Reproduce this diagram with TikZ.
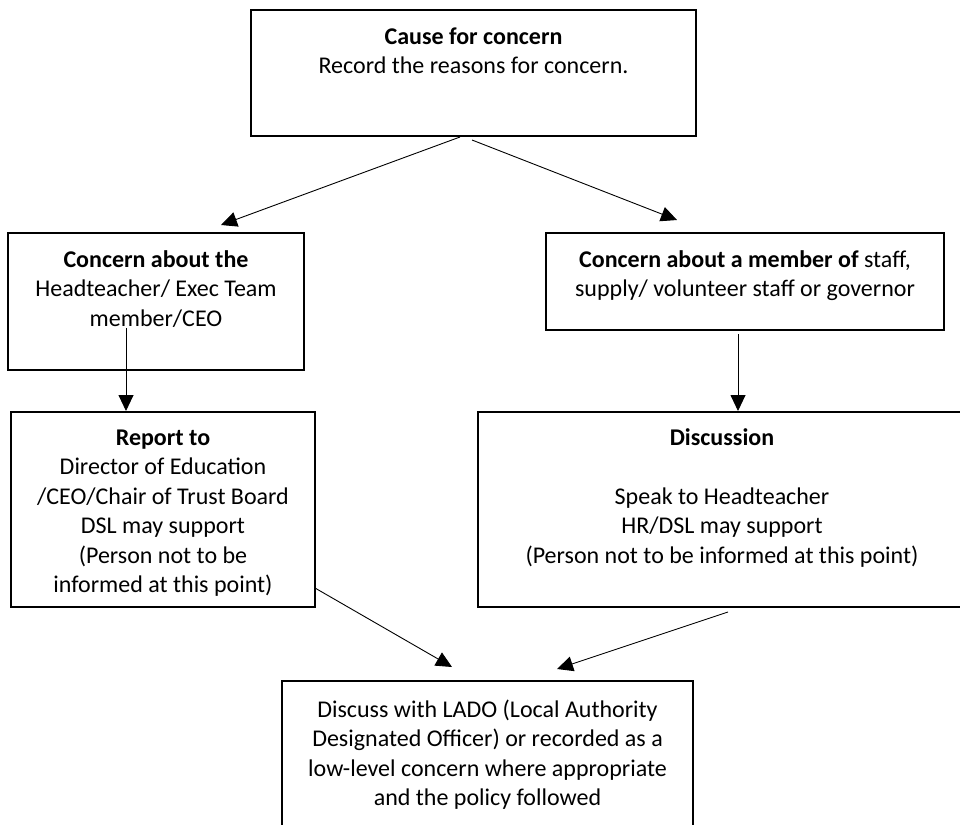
\documentclass[tikz,border=0pt]{standalone}
\usepackage{fontspec}
\setmainfont{Carlito}
\usetikzlibrary{arrows.meta,calc}
\tikzset{
  box/.style={draw=black, line width=1.1pt, rectangle, inner sep=0pt, outer sep=0pt, anchor=north west},
  txt/.style={anchor=north, inner sep=0pt, align=center, font=\fontsize{24}{29.5}\selectfont},
  conn/.style={draw=black, line width=0.9pt, -{Triangle[length=16pt,width=15pt]}}
}
\newcommand{\fl}{\rule{0pt}{20pt}}
\begin{document}
\begin{tikzpicture}[x=1pt,y=-1pt]
\useasboundingbox (0,0) rectangle (960,824);
\fill[white] (0,0) rectangle (960,824);
% boxes
\node[box, minimum width=445pt, minimum height=126pt] (b1) at (251,10) {};
\node[box, minimum width=296pt, minimum height=137pt] (b2) at (8,233) {};
\node[box, minimum width=398pt, minimum height=97pt] (b3) at (546,233) {};
\node[box, minimum width=304pt, minimum height=195pt] (b4) at (11,412) {};
\node[box, minimum width=488pt, minimum height=195pt] (b5) at (478,412) {};
\node[box, minimum width=411pt, minimum height=170pt] (b6) at (282,681) {};
% texts
\node[txt] (t1) at ($(b1.north)+(0,14)$) {\fl\textbf{Cause for concern}\\Record the reasons for concern.};
\node[txt] (t2) at ($(b2.north)+(0,14)$) {\fl\textbf{Concern about the}\\Headteacher/ Exec Team\\member/CEO};
\node[txt] (t3) at ($(b3.north)+(0,14)$) {\fl\textbf{Concern about a member of} staff,\\supply/ volunteer staff or governor};
\node[txt] (t4) at ($(b4.north)+(0,13)$) {\fl\textbf{Report to}\\Director of Education\\/CEO/Chair of Trust Board\\DSL may support\\(Person not to be\\informed at this point)};
\node[txt] (t5) at ($(b5.north)+(0,13)$) {\fl\textbf{Discussion}\\[29.5pt]Speak to Headteacher\\HR/DSL may support\\(Person not to be informed at this point)};
\node[txt] (t6) at ($(b6.north)+(0,16)$) {\fl Discuss with LADO (Local Authority\\Designated Officer) or recorded as a\\low-level concern where appropriate\\and the policy followed};
% connector ends
\coordinate (c1s) at ($(b1.south)+(-13.5,1)$);
\coordinate (c1e) at ($(b2.north)+(65,-8)$);
\coordinate (c2s) at ($(b1.south)+(-1.5,4)$);
\coordinate (c2e) at ($(b3.north)+(-68,-13)$);
\coordinate (c3s) at ($(b2.south)+(-30,-42)$);
\coordinate (c3e) at ($(b4.north)+(-37,-1)$);
\coordinate (c4s) at ($(b3.south)+(-7,4)$);
\coordinate (c4e) at ($(b5.north)+(16,-1)$);
\coordinate (c5s) at ($(b4.south east)+(0,-19)$);
\coordinate (c5e) at ($(b6.north)+(-35.5,-14)$);
\coordinate (c6s) at ($(b5.south)+(6,5)$);
\coordinate (c6e) at ($(b6.north)+(69.5,-12)$);
% connectors
\draw[conn] (c1s) -- (c1e);
\draw[conn] (c2s) -- (c2e);
\draw[conn] (c3s) -- (c3e);
\draw[conn] (c4s) -- (c4e);
\draw[conn] (c5s) -- (c5e);
\draw[conn] (c6s) -- (c6e);
\end{tikzpicture}
\end{document}
